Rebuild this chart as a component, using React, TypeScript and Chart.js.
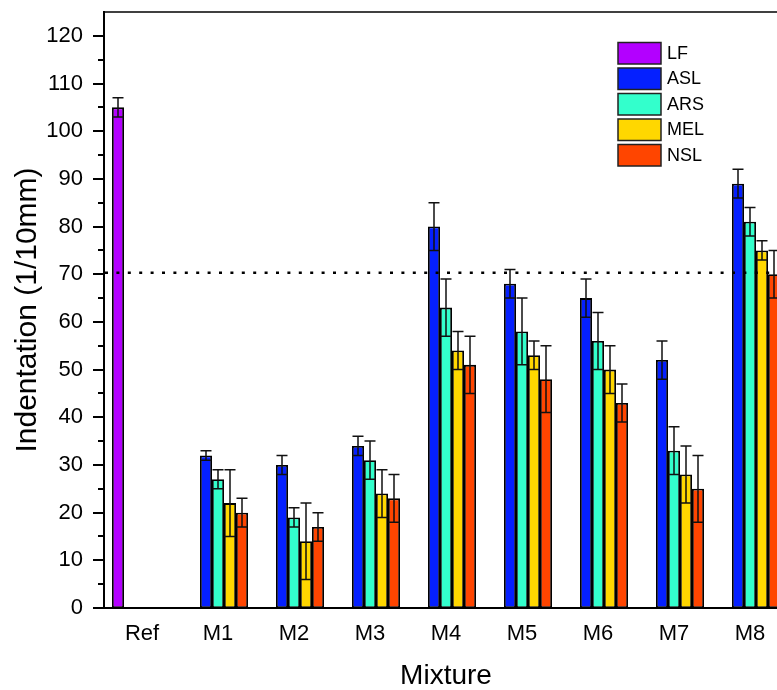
import React, { useEffect, useRef } from 'react';
import { Chart, registerables } from 'chart.js';

Chart.register(...registerables);

// ---- data ----
const categories = ['Ref', 'M1', 'M2', 'M3', 'M4', 'M5', 'M6', 'M7', 'M8'];
const seriesNames = ['LF', 'ASL', 'ARS', 'MEL', 'NSL'];

const lfValues = [105, null, null, null, null, null, null, null, null];
const aslValues = [null, 32, 30, 34, 80, 68, 65, 52, 89];
const arsValues = [null, 27, 19, 31, 63, 58, 56, 33, 81];
const melValues = [null, 22, 14, 24, 54, 53, 50, 28, 75];
const nslValues = [null, 20, 17, 23, 51, 48, 43, 25, 70];

const lfErrors = [2, null, null, null, null, null, null, null, null];
const aslErrors = [null, 1, 2, 2, 5, 3, 4, 4, 3];
const arsErrors = [null, 2, 2, 4, 6, 7, 6, 5, 3];
const melErrors = [null, 7, 8, 5, 4, 3, 5, 6, 2];
const nslErrors = [null, 3, 3, 5, 6, 7, 4, 7, 5];

const referenceValue = 70.3;
const yMin = 0;
const yMax = 125;
const yLabelStep = 10;
const yMinorStep = 5;

// ---- styles ----
const seriesColors = ['#B300FF', '#0520FF', '#33FFCC', '#FFD700', '#FF4500'];
const FONT = '"Liberation Sans", Arial, sans-serif';

const seriesValues = [lfValues, aslValues, arsValues, melValues, nslValues];
const seriesErrors = [lfErrors, aslErrors, arsErrors, melErrors, nslErrors];

const decorPlugin = {
  id: 'decor',
  afterDatasetsDraw(chart: any) {
    const ctx = chart.ctx;
    const ys = chart.scales.y;
    const area = chart.chartArea;
    ctx.save();
    // error bars
    chart.data.datasets.forEach((ds: any, di: number) => {
      const meta = chart.getDatasetMeta(di);
      const errs = seriesErrors[di];
      meta.data.forEach((bar: any, i: number) => {
        const v = ds.data[i];
        const e = errs[i];
        if (v == null || e == null) return;
        const x = bar.x;
        const half = bar.width / 2 - 0.5;
        const yt = ys.getPixelForValue(v + e);
        const yb = ys.getPixelForValue(v - e);
        ctx.strokeStyle = '#111';
        ctx.lineWidth = 1.5;
        ctx.beginPath();
        ctx.moveTo(x, yt);
        ctx.lineTo(x, yb);
        ctx.moveTo(x - half, yt);
        ctx.lineTo(x + half, yt);
        ctx.moveTo(x - half, yb);
        ctx.lineTo(x + half, yb);
        ctx.stroke();
      });
    });
    // reference dotted line
    const yr = ys.getPixelForValue(referenceValue);
    ctx.strokeStyle = '#000';
    ctx.lineWidth = 2.5;
    ctx.setLineDash([3, 8.4]);
    ctx.beginPath();
    ctx.moveTo(area.left + 1, yr);
    ctx.lineTo(chart.width, yr);
    ctx.stroke();
    ctx.setLineDash([]);
    ctx.restore();
  },
  afterDraw(chart: any) {
    const ctx = chart.ctx;
    const ys = chart.scales.y;
    const area = chart.chartArea;
    ctx.save();
    // y tick marks (major + minor)
    ctx.strokeStyle = '#000';
    ctx.lineWidth = 2;
    for (let v = yMin; v < yMax; v += yMinorStep) {
      const y = Math.round(ys.getPixelForValue(v));
      const len = v % yLabelStep === 0 ? 11 : 6;
      ctx.beginPath();
      ctx.moveTo(area.left - len, y);
      ctx.lineTo(area.left, y);
      ctx.stroke();
    }
    // top frame
    ctx.lineWidth = 1.6;
    ctx.beginPath();
    ctx.moveTo(area.left - 1, area.top);
    ctx.lineTo(area.right, area.top);
    ctx.stroke();
    // legend
    const lx = 618;
    const ly = 42.5;
    const pitch = 25.5;
    ctx.font = `18px ${FONT}`;
    ctx.textBaseline = 'middle';
    ctx.textAlign = 'left';
    seriesNames.forEach((name, i) => {
      const y = ly + i * pitch;
      ctx.fillStyle = seriesColors[i];
      ctx.fillRect(lx, y, 43, 21.5);
      ctx.lineWidth = 1.5;
      ctx.strokeStyle = '#222';
      ctx.strokeRect(lx, y, 43, 21.5);
      ctx.fillStyle = '#000';
      ctx.fillText(name, lx + 49, y + 11.5);
    });
    ctx.restore();
  },
};

export default function App() {
  const ref = useRef<HTMLCanvasElement | null>(null);
  useEffect(() => {
    if (!ref.current) return;
    Chart.defaults.color = '#000';
    Chart.defaults.font.family = FONT;
    const chart = new Chart(ref.current, {
      type: 'bar',
      data: {
        labels: categories,
        datasets: seriesNames.map((name, i) => ({
          label: name,
          data: seriesValues[i],
          backgroundColor: seriesColors[i],
          borderColor: '#000',
          borderWidth: 1.8,
          borderSkipped: false,
          categoryPercentage: 60 / 76,
          barPercentage: 1,
        })),
      },
      options: {
        responsive: false,
        animation: false,
        layout: { padding: { top: 12, right: 12, left: 0, bottom: 0 } },
        plugins: {
          legend: { display: false },
          tooltip: { enabled: false },
        },
        scales: {
          x: {
            grid: { display: false },
            border: { display: true, color: '#000', width: 2 },
            ticks: { font: { size: 22 }, padding: 5, color: '#000', maxRotation: 0 },
            title: {
              display: true,
              text: 'Mixture',
              font: { size: 28, lineHeight: 1 },
              padding: { top: 0, bottom: 0 },
              color: '#000',
            },
            afterFit(scale: any) {
              scale.height = 82;
              scale.paddingLeft = 0;
              scale.paddingRight = 0;
            },
          },
          y: {
            min: yMin,
            max: yMax,
            grid: { display: false },
            border: { display: true, color: '#000', width: 2 },
            ticks: {
              stepSize: yMinorStep,
              autoSkip: false,
              font: { size: 22 },
              padding: 13,
              color: '#000',
              callback: (v: any) =>
                Number(v) % yLabelStep === 0 && Number(v) < yMax ? String(v) : '',
            },
            title: {
              display: true,
              text: 'Indentation (1/10mm)',
              font: { size: 30, lineHeight: 1 },
              padding: { top: 13, bottom: 0 },
              color: '#000',
            },
            afterFit(scale: any) {
              scale.width = 104;
              scale.paddingTop = 0;
              scale.paddingBottom = 0;
            },
          },
        },
      },
      plugins: [decorPlugin],
    });
    return () => chart.destroy();
  }, []);

  return (
    <div
      style={{
        position: 'fixed',
        left: 0,
        top: 0,
        width: 777,
        height: 690,
        overflow: 'hidden',
        background: '#fff',
      }}
    >
      <canvas ref={ref} width={800} height={690} style={{ width: 800, height: 690, display: 'block' }} />
    </div>
  );
}
